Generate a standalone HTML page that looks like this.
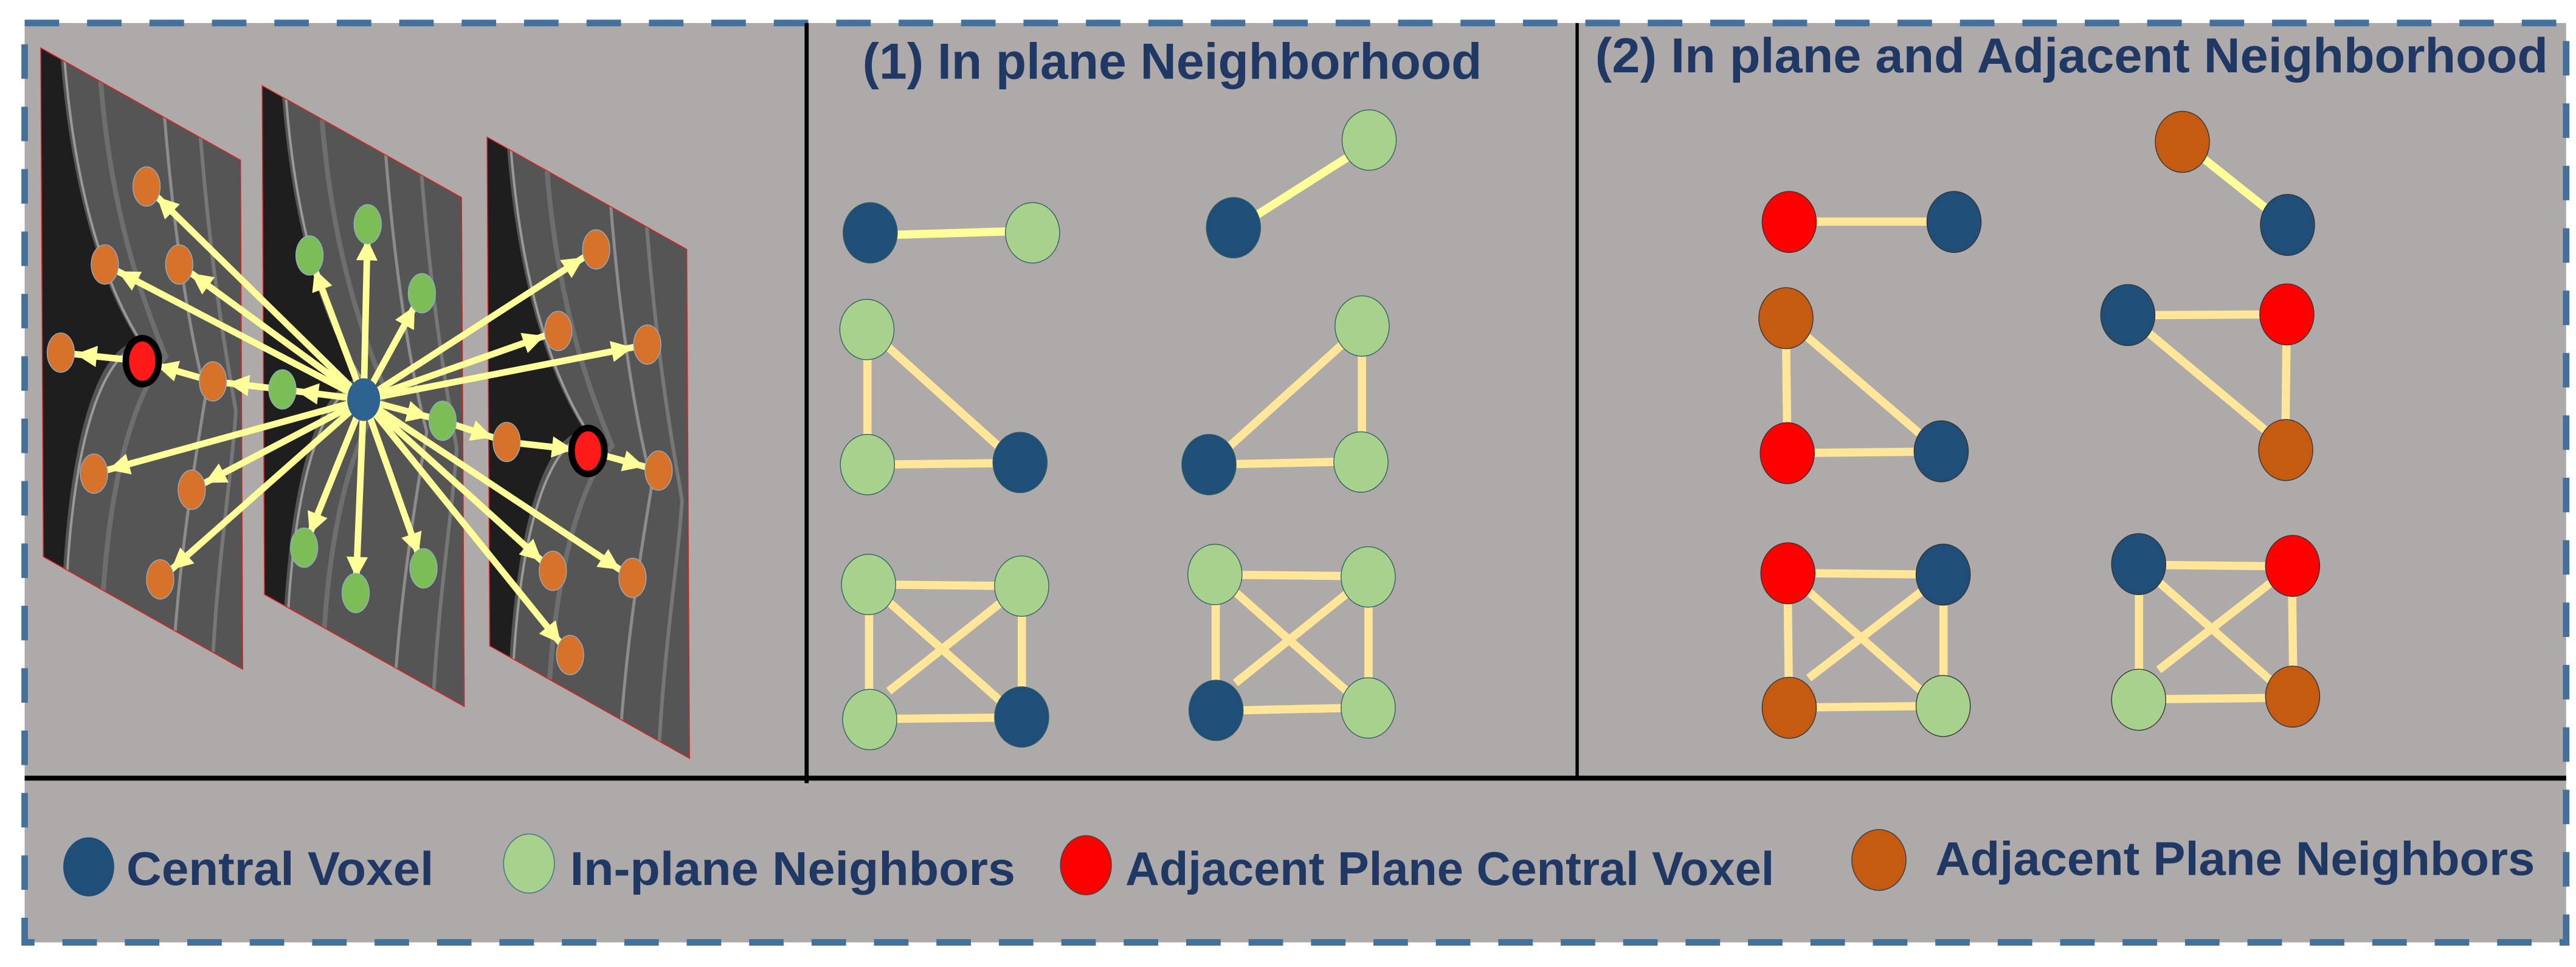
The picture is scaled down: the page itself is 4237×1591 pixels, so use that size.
<!DOCTYPE html>
<html><head><meta charset="utf-8"><style>
html,body{margin:0;padding:0;background:#fff;}
svg{display:block;}
text{font-family:"Liberation Sans",sans-serif;font-weight:bold;fill:#1f3864;}
</style></head><body>
<svg width="4237" height="1591" viewBox="0 0 1568 589" preserveAspectRatio="none" xmlns="http://www.w3.org/2000/svg">
<defs>
<marker id="ah" markerUnits="userSpaceOnUse" viewBox="-20 -10 40 20" refX="9" refY="0" markerWidth="40" markerHeight="20" orient="auto" overflow="visible">
<path d="M-13,-6.5 L0,0 L-13,6.5 z" fill="#ffff99"/>
</marker>
<clipPath id="c1"><polygon points="24.8,29.2 146.4,97.6 147.7,407.6 26.4,339.1"/></clipPath>
<clipPath id="c2"><polygon points="159.6,52.2 280.9,120.3 282.6,430.3 161,362.1"/></clipPath>
<clipPath id="c3"><polygon points="296.5,83.5 418,151.9 419.7,461.9 298.1,393.4"/></clipPath>
<g id="oct">
<rect x="0" y="0" width="1" height="1" fill="#555"/>
<path d="M0,0 L0.1,0 C0.15,0.25 0.3,0.4 0.48,0.47 C0.3,0.52 0.15,0.7 0.1,1 L0,1 z" fill="#1e1e1e"/>
<path d="M0.12,0 C0.17,0.25 0.32,0.4 0.5,0.47 C0.32,0.53 0.17,0.7 0.12,1" fill="none" stroke="#9a9a9a" stroke-width="4" vector-effect="non-scaling-stroke"/>
<path d="M0.3,0 C0.35,0.25 0.5,0.38 0.62,0.47 C0.5,0.55 0.35,0.72 0.3,1" fill="none" stroke="#6e6e6e" stroke-width="8" vector-effect="non-scaling-stroke"/>
<path d="M0.62,0 C0.68,0.3 0.78,0.45 0.82,0.5 C0.78,0.6 0.7,0.8 0.66,1" fill="none" stroke="#8c8c8c" stroke-width="5" vector-effect="non-scaling-stroke"/>
<path d="M0.8,0 C0.86,0.3 0.95,0.45 0.97,0.5 C0.95,0.62 0.88,0.8 0.85,1" fill="none" stroke="#777" stroke-width="6" vector-effect="non-scaling-stroke"/>
</g>
</defs>
<rect x="0" y="0" width="1568" height="589" fill="#fff"/>
<rect x="15" y="14" width="1547" height="560" fill="#aeaaaa"/>
<rect x="15" y="14" width="1547" height="560" fill="none" stroke="#41719c" stroke-width="4" stroke-dasharray="21 17"/>
<line x1="15" y1="474" x2="1562" y2="474" stroke="#000" stroke-width="3"/>
<line x1="491" y1="14" x2="491" y2="477" stroke="#000" stroke-width="2.5"/>
<line x1="960" y1="14" x2="960" y2="474" stroke="#000" stroke-width="2"/>

<g clip-path="url(#c1)"><use href="#oct" transform="matrix(121.6,68.4,1.6,309.9,24.8,29.2)"/></g>
<polygon points="24.8,29.2 146.4,97.6 147.7,407.6 26.4,339.1" fill="none" stroke="#e02020" stroke-width="0.6"/>
<g clip-path="url(#c2)"><use href="#oct" transform="matrix(121.3,68.1,1.4,309.9,159.6,52.2)"/></g>
<polygon points="159.6,52.2 280.9,120.3 282.6,430.3 161,362.1" fill="none" stroke="#e02020" stroke-width="0.6"/>
<g clip-path="url(#c3)"><use href="#oct" transform="matrix(121.5,68.4,1.6,309.9,296.5,83.5)"/></g>
<polygon points="296.5,83.5 418,151.9 419.7,461.9 298.1,393.4" fill="none" stroke="#e02020" stroke-width="0.6"/>

<g stroke="#ffff99" stroke-width="4" marker-end="url(#ah)">
<line x1="221.4" y1="243.4" x2="89.2" y2="113.6"/>
<line x1="221.4" y1="243.4" x2="63.8" y2="161.1"/>
<line x1="221.4" y1="243.4" x2="109.1" y2="161.1"/>
<line x1="221.4" y1="243.4" x2="171.9" y2="237.2"/>
<line x1="171.9" y1="237.2" x2="129.6" y2="232.3"/>
<line x1="129.6" y1="232.3" x2="86.6" y2="220"/>
<line x1="86.6" y1="220" x2="37" y2="214.8"/>
<line x1="221.4" y1="243.4" x2="57.2" y2="288.5"/>
<line x1="221.4" y1="243.4" x2="116.7" y2="298.3"/>
<line x1="221.4" y1="243.4" x2="97.5" y2="352.9"/>
<line x1="221.4" y1="243.4" x2="188.4" y2="155.6"/>
<line x1="221.4" y1="243.4" x2="223.8" y2="136.6"/>
<line x1="221.4" y1="243.4" x2="256.8" y2="178.6"/>
<line x1="221.4" y1="243.4" x2="185.1" y2="333.6"/>
<line x1="221.4" y1="243.4" x2="216.5" y2="361.2"/>
<line x1="221.4" y1="243.4" x2="257.8" y2="346.2"/>
<line x1="221.4" y1="243.4" x2="269.4" y2="256.3"/>
<line x1="269.4" y1="256.3" x2="308.4" y2="269.2"/>
<line x1="308.4" y1="269.2" x2="357.9" y2="274.7"/>
<line x1="357.9" y1="274.7" x2="400.9" y2="286.6"/>
<line x1="221.4" y1="243.4" x2="362.9" y2="151.9"/>
<line x1="221.4" y1="243.4" x2="339.8" y2="201.6"/>
<line x1="221.4" y1="243.4" x2="394" y2="209.9"/>
<line x1="221.4" y1="243.4" x2="336.5" y2="347.7"/>
<line x1="221.4" y1="243.4" x2="385" y2="352"/>
<line x1="221.4" y1="243.4" x2="347" y2="399"/>
</g>
<g fill="#d6722a" stroke="#8fb0c8" stroke-width="0.5">
<ellipse cx="89.2" cy="113.6" rx="8.3" ry="12"/>
<ellipse cx="63.8" cy="161.1" rx="8.3" ry="12"/>
<ellipse cx="109.1" cy="161.1" rx="8.3" ry="12"/>
<ellipse cx="37" cy="214.8" rx="8.3" ry="12"/>
<ellipse cx="129.6" cy="232.3" rx="8.3" ry="12"/>
<ellipse cx="57.2" cy="288.5" rx="8.3" ry="12"/>
<ellipse cx="116.7" cy="298.3" rx="8.3" ry="12"/>
<ellipse cx="97.5" cy="352.9" rx="8.3" ry="12"/>
<ellipse cx="362.9" cy="151.9" rx="8.3" ry="12"/>
<ellipse cx="339.8" cy="201.6" rx="8.3" ry="12"/>
<ellipse cx="394" cy="209.9" rx="8.3" ry="12"/>
<ellipse cx="308.4" cy="269.2" rx="8.3" ry="12"/>
<ellipse cx="400.9" cy="286.6" rx="8.3" ry="12"/>
<ellipse cx="336.5" cy="347.7" rx="8.3" ry="12"/>
<ellipse cx="385" cy="352" rx="8.3" ry="12"/>
<ellipse cx="347" cy="399" rx="8.3" ry="12"/>
</g>
<g fill="#7dbd57" stroke="#8fb0c8" stroke-width="0.5">
<ellipse cx="188.4" cy="155.6" rx="8.3" ry="12"/>
<ellipse cx="223.8" cy="136.6" rx="8.3" ry="12"/>
<ellipse cx="256.8" cy="178.6" rx="8.3" ry="12"/>
<ellipse cx="171.9" cy="237.2" rx="8.3" ry="12"/>
<ellipse cx="269.4" cy="256.3" rx="8.3" ry="12"/>
<ellipse cx="185.1" cy="333.6" rx="8.3" ry="12"/>
<ellipse cx="216.5" cy="361.2" rx="8.3" ry="12"/>
<ellipse cx="257.8" cy="346.2" rx="8.3" ry="12"/>
</g>
<ellipse cx="86.6" cy="220" rx="10" ry="14" fill="#ff1a1a" stroke="#000" stroke-width="4"/>
<ellipse cx="357.9" cy="274.7" rx="10" ry="14" fill="#ff1a1a" stroke="#000" stroke-width="4"/>
<ellipse cx="221.4" cy="243.4" rx="10" ry="13" fill="#2e6290"/>

<text x="525" y="48" font-size="31" textLength="377" lengthAdjust="spacingAndGlyphs">(1) In plane Neighborhood</text>
<text x="971" y="44" font-size="30" textLength="580" lengthAdjust="spacingAndGlyphs">(2) In plane and Adjacent Neighborhood</text>

<g stroke="#ffff99" stroke-width="5">
<line x1="545" y1="143" x2="613" y2="141"/>
<line x1="765" y1="131" x2="820" y2="96"/>
</g>
<g stroke="#ffe699" stroke-width="5">
<line x1="528" y1="200" x2="528" y2="283"/>
<line x1="528" y1="200" x2="618" y2="281"/>
<line x1="528" y1="283" x2="618" y2="282"/>
<line x1="829" y1="199" x2="736" y2="283"/>
<line x1="829" y1="199" x2="829" y2="281"/>
<line x1="736" y1="283" x2="828" y2="281"/>
<line x1="529" y1="356" x2="622" y2="357"/>
<line x1="529" y1="356" x2="529" y2="438"/>
<line x1="622" y1="357" x2="622" y2="437"/>
<line x1="529" y1="438" x2="618" y2="437"/>
<line x1="529" y1="356" x2="618" y2="435"/>
<line x1="622" y1="357" x2="541" y2="421"/>
<line x1="740" y1="350" x2="833" y2="351"/>
<line x1="740" y1="350" x2="740" y2="433"/>
<line x1="833" y1="351" x2="833" y2="431"/>
<line x1="740" y1="433" x2="830" y2="431"/>
<line x1="740" y1="350" x2="830" y2="430"/>
<line x1="833" y1="351" x2="752" y2="416"/>
</g>
<g stroke="#2f5f5f" stroke-width="0.5">
<ellipse cx="529.7" cy="141.8" rx="16.5" ry="18.4" fill="#1f4e79"/>
<ellipse cx="628.5" cy="141.8" rx="16.5" ry="18.4" fill="#a9d18e"/>
<ellipse cx="750.8" cy="138.7" rx="16.5" ry="18.4" fill="#1f4e79"/>
<ellipse cx="833.4" cy="85.3" rx="16.5" ry="18.4" fill="#a9d18e"/>
<ellipse cx="527.7" cy="200.7" rx="16.5" ry="18.4" fill="#a9d18e"/>
<ellipse cx="528" cy="283" rx="16.5" ry="18.4" fill="#a9d18e"/>
<ellipse cx="620.9" cy="281.7" rx="16.5" ry="18.4" fill="#1f4e79"/>
<ellipse cx="829.1" cy="198.6" rx="16.5" ry="18.4" fill="#a9d18e"/>
<ellipse cx="828.4" cy="281.4" rx="16.5" ry="18.4" fill="#a9d18e"/>
<ellipse cx="735.9" cy="283" rx="16.5" ry="18.4" fill="#1f4e79"/>
<ellipse cx="528.7" cy="356" rx="16.5" ry="18.4" fill="#a9d18e"/>
<ellipse cx="621.9" cy="357" rx="16.5" ry="18.4" fill="#a9d18e"/>
<ellipse cx="529.4" cy="438.3" rx="16.5" ry="18.4" fill="#a9d18e"/>
<ellipse cx="621.9" cy="436.7" rx="16.5" ry="18.4" fill="#1f4e79"/>
<ellipse cx="739.5" cy="349.9" rx="16.5" ry="18.4" fill="#a9d18e"/>
<ellipse cx="832.8" cy="351.4" rx="16.5" ry="18.4" fill="#a9d18e"/>
<ellipse cx="740.2" cy="432.7" rx="16.5" ry="18.4" fill="#1f4e79"/>
<ellipse cx="832.8" cy="431.2" rx="16.5" ry="18.4" fill="#a9d18e"/>
</g>

<line x1="1328" y1="86" x2="1392" y2="137" stroke="#ffff99" stroke-width="5"/>
<g stroke="#ffe699" stroke-width="5">
<line x1="1089" y1="135" x2="1189" y2="135"/>
<line x1="1087" y1="194" x2="1088" y2="276"/>
<line x1="1087" y1="194" x2="1180" y2="274"/>
<line x1="1088" y1="276" x2="1180" y2="275"/>
<line x1="1295" y1="192" x2="1392" y2="191.5"/>
<line x1="1392" y1="191.5" x2="1391" y2="274"/>
<line x1="1295" y1="192" x2="1386" y2="268"/>
<line x1="1088" y1="349" x2="1183" y2="350"/>
<line x1="1088" y1="349" x2="1089" y2="431"/>
<line x1="1183" y1="350" x2="1183" y2="430"/>
<line x1="1089" y1="431" x2="1180" y2="430"/>
<line x1="1088" y1="349" x2="1180" y2="430"/>
<line x1="1183" y1="350" x2="1101" y2="413"/>
<line x1="1302" y1="344" x2="1395" y2="345"/>
<line x1="1302" y1="344" x2="1302" y2="426"/>
<line x1="1395" y1="345" x2="1396" y2="424"/>
<line x1="1302" y1="426" x2="1393" y2="425"/>
<line x1="1302" y1="344" x2="1393" y2="424"/>
<line x1="1395" y1="345" x2="1314" y2="408"/>
</g>
<g stroke="#333" stroke-width="0.5">
<ellipse cx="1089.1" cy="135.2" rx="16.5" ry="18.6" fill="#ff0000"/>
<ellipse cx="1189.4" cy="135.2" rx="16.5" ry="18.6" fill="#1f4e79"/>
<ellipse cx="1328.4" cy="86.4" rx="16.5" ry="18.6" fill="#c55a11"/>
<ellipse cx="1392.4" cy="137" rx="16.5" ry="18.6" fill="#1f4e79"/>
<ellipse cx="1087.1" cy="193.8" rx="16.5" ry="18.6" fill="#c55a11"/>
<ellipse cx="1087.9" cy="276" rx="16.5" ry="18.6" fill="#ff0000"/>
<ellipse cx="1181.6" cy="274.9" rx="16.5" ry="18.6" fill="#1f4e79"/>
<ellipse cx="1295.2" cy="191.9" rx="16.5" ry="18.6" fill="#1f4e79"/>
<ellipse cx="1392" cy="191.5" rx="16.5" ry="18.6" fill="#ff0000"/>
<ellipse cx="1391.3" cy="274.1" rx="16.5" ry="18.6" fill="#c55a11"/>
<ellipse cx="1088.3" cy="349.2" rx="16.5" ry="18.6" fill="#ff0000"/>
<ellipse cx="1182.8" cy="350" rx="16.5" ry="18.6" fill="#1f4e79"/>
<ellipse cx="1089.1" cy="431.1" rx="16.5" ry="18.6" fill="#c55a11"/>
<ellipse cx="1182.8" cy="430" rx="16.5" ry="18.6" fill="#a9d18e"/>
<ellipse cx="1301.8" cy="343.6" rx="16.5" ry="18.6" fill="#1f4e79"/>
<ellipse cx="1395.5" cy="344.7" rx="16.5" ry="18.6" fill="#ff0000"/>
<ellipse cx="1301.8" cy="426.2" rx="16.5" ry="18.6" fill="#a9d18e"/>
<ellipse cx="1395.5" cy="424.3" rx="16.5" ry="18.6" fill="#c55a11"/>
</g>

<ellipse cx="54" cy="528" rx="15.5" ry="18" fill="#1f4e79"/>
<text x="77" y="539" font-size="29" textLength="187" lengthAdjust="spacingAndGlyphs">Central Voxel</text>
<ellipse cx="322" cy="526" rx="15.5" ry="18" fill="#a9d18e" stroke="#4a7a8a" stroke-width="0.6"/>
<text x="347" y="539" font-size="29" textLength="271" lengthAdjust="spacingAndGlyphs">In-plane Neighbors</text>
<ellipse cx="661" cy="527" rx="15.5" ry="18" fill="#ff0000" stroke="#444" stroke-width="0.6"/>
<text x="685" y="539" font-size="29" textLength="395" lengthAdjust="spacingAndGlyphs">Adjacent Plane Central Voxel</text>
<ellipse cx="1143.7" cy="523.8" rx="16.5" ry="18.5" fill="#c55a11" stroke="#444" stroke-width="0.6"/>
<text x="1178" y="533" font-size="29" textLength="365" lengthAdjust="spacingAndGlyphs">Adjacent Plane Neighbors</text>
</svg>
</body></html>
